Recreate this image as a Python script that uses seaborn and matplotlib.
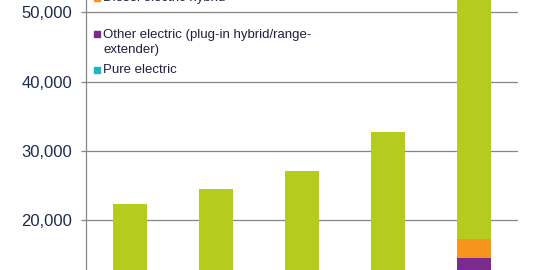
import matplotlib
matplotlib.use("Agg")
import matplotlib.pyplot as plt
import seaborn as sns
import numpy as np
import pandas as pd
from matplotlib.lines import Line2D
from matplotlib.ticker import FuncFormatter

# ---- data (hidden lower parts estimated) ----
years = ["2011", "2012", "2013", "2014", "2015"]
pure_electric = [1100, 1300, 2500, 6700, 5000]
other_electric = [100, 300, 1100, 2100, 9570]
diesel_hybrid = [0, 0, 0, 0, 2700]
petrol_hybrid = [21124, 22890, 23490, 23950, 38730]

series_names = ["Petrol electric hybrid", "Diesel electric hybrid",
                "Other electric (plug-in hybrid/range-\nextender)", "Pure electric"]
series_values = [petrol_hybrid, diesel_hybrid, other_electric, pure_electric]
series_colors = ["#B5CC1F", "#F7941E", "#7B2A8E", "#1DB4C6"]

y_ticks = [20000, 30000, 40000, 50000]

sns.set_style("white")
plt.rcParams["font.family"] = ["Liberation Sans", "DejaVu Sans"]

fig = plt.figure(figsize=(5.33, 2.70), dpi=100)
W, H = 533, 270
ax = fig.add_axes([86 / W, 0, (518 - 86) / W, 1])

# stacked bars: draw cumulative totals from top layer down
layers = np.array(series_values, dtype=float)  # order: top..bottom
cum = np.cumsum(layers[::-1], axis=0)[::-1]      # cum[i] = sum of layers i..end
for name, totals, color in zip(series_names, cum, series_colors):
    df = pd.DataFrame({"year": years, "value": totals})
    sns.barplot(data=df, x="year", y="value", color=color, width=0.395,
                saturation=1, ax=ax, errorbar=None, zorder=3, linewidth=0,
                edgecolor="none")

ax.set_xlim(-0.5116, 4.5116)
ax.set_ylim(12796, 51776)
ax.set_yticks(y_ticks)
ax.yaxis.set_major_formatter(FuncFormatter(lambda v, p: f"{int(v):,}"))
ax.set_xticks([])
ax.set_xlabel("")
ax.set_ylabel("")

grid_c = "#868686"
ax.yaxis.grid(True, color=grid_c, linewidth=0.9, zorder=0)
ax.set_axisbelow(True)
for s in ["top", "right", "bottom"]:
    ax.spines[s].set_visible(False)
ax.spines["left"].set_color(grid_c)
ax.spines["left"].set_linewidth(0.9)
ax.tick_params(axis="y", left=True, length=3.6, width=0.9, color=grid_c,
               pad=6.5, labelsize=12, labelcolor="#1F2A4E")

# legend (only its lower part is inside the picture); marker beside first line
# baseline positions refer to the last line of each label
legend_baselines_px = [0.5, 52.7, 73.3]
legend_marker_px = [-2.5, 33.5, 69.5]
for label, color, yb, ym in zip(series_names[1:], series_colors[1:],
                                legend_baselines_px, legend_marker_px):
    fig.add_artist(Line2D([97 / W], [1 - ym / H], transform=fig.transFigure,
                          marker="s", markersize=4.0, linestyle="none",
                          markerfacecolor=color, markeredgecolor=color))
    fig.text(103 / W, 1 - yb / H, label, fontsize=9.5, color="#1F1F3F",
             ha="left", va="baseline", linespacing=1.25)

fig.savefig("out.png", dpi=100)
